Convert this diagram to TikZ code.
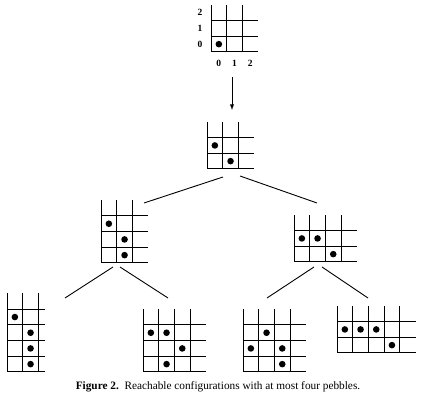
\documentclass[tikz,border=0pt]{standalone}
\usepackage{fontspec}
\setmainfont{Liberation Serif}
\usetikzlibrary{calc}
\def\cellsz{15.7pt}
% grid: origin, last column line, last row line, length of row lines, pebbles
\def\pebblegrid(#1)[#2:#3:#4]#5{
	\begin{scope}[shift={(#1)}, x=\cellsz, y=\cellsz]
		\foreach \i in {0,...,#2} \draw[gridline] (\i, 0) -- (\i, #3+1);
		\foreach \j in {0,...,#3} \draw[gridline] (0, \j) -- (#4, \j);
		\foreach \p/\q in {#5} \fill (\p+0.5, \q+0.5) circle (3.3pt);
	\end{scope}}

\begin{document}
\begin{tikzpicture}[x=1pt, y=1pt, gridline/.style={line width=1pt}, link/.style={line width=0.9pt}]
			%%%%% START %%%%%
			
			\useasboundingbox[fill=white] (0, 0) rectangle (421, 401);
			
			\coordinate (g0) at (211, 349);
			\coordinate (g1) at (207, 232);
			\coordinate (g2) at (101, 138);
			\coordinate (g3) at (294, 139);
			\coordinate (g4) at (7, 29);
			\coordinate (g5) at (143, 29);
			\coordinate (g6) at (243, 29);
			\coordinate (g7) at (337, 48);
			
			\pebblegrid(g0)[2:2:3]{0/0}
			\pebblegrid(g1)[2:2:3]{0/1, 1/0}
			\pebblegrid(g2)[2:3:3]{0/2, 1/1, 1/0}
			\pebblegrid(g3)[3:2:4]{0/1, 1/1, 2/0}
			\pebblegrid(g4)[2:4:2.4]{0/3, 1/2, 1/1, 1/0}
			\pebblegrid(g5)[3:3:4]{0/2, 1/2, 2/1, 1/0}
			\pebblegrid(g6)[3:3:4]{1/2, 0/1, 2/1, 2/0}
			\pebblegrid(g7)[4:2:5]{0/1, 1/1, 2/1, 3/0}
			
			% axis numbers
			\foreach \k in {0, 1, 2} {
				\node[font=\fontsize{9.5}{9.5}\selectfont\bfseries] (row\k) at ($(g0)+(-11, 7.85+15.7*\k)$) {\k};
				\node[font=\fontsize{9.5}{9.5}\selectfont\bfseries] (col\k) at ($(g0)+(7.85+15.7*\k, -11)$) {\k};
			}
			
			\coordinate (a0) at ($(g0)+(21, -25)$);
			\coordinate (a1) at ($(g1)+(25, 59)$);
			\draw[link, -latex] (a0) -- (a1);
			
			\coordinate (g1-l) at ($(g1)+(16, -8)$);
			\coordinate (g1-r) at ($(g1)+(33, -7)$);
			\coordinate (g2-l) at ($(g2)+(12, -4)$);
			\coordinate (g2-r) at ($(g2)+(19, -4)$);
			\coordinate (g3-l) at ($(g3)+(20, -5)$);
			\coordinate (g3-r) at ($(g3)+(28, -5)$);
			\coordinate (g2-t) at ($(g2)+(43, 60)$);
			\coordinate (g3-t) at ($(g3)+(23, 59)$);
			\coordinate (g4-t) at ($(g4)+(58, 74)$);
			\coordinate (g5-t) at ($(g5)+(25, 74)$);
			\coordinate (g6-t) at ($(g6)+(24, 74)$);
			\coordinate (g7-t) at ($(g7)+(31, 55)$);
			
			\draw[link] (g1-l) -- (g2-t);
			\draw[link] (g1-r) -- (g3-t);
			\draw[link] (g2-l) -- (g4-t);
			\draw[link] (g2-r) -- (g5-t);
			\draw[link] (g3-l) -- (g6-t);
			\draw[link] (g3-r) -- (g7-t);
			
			\node[font=\fontsize{11.3}{11.3}\selectfont] (caption) at (218, 14) {\textbf{Figure 2.}\ \ Reachable configurations with at most four pebbles.};
			
			%%%%% END %%%%%
\end{tikzpicture}
\end{document}
